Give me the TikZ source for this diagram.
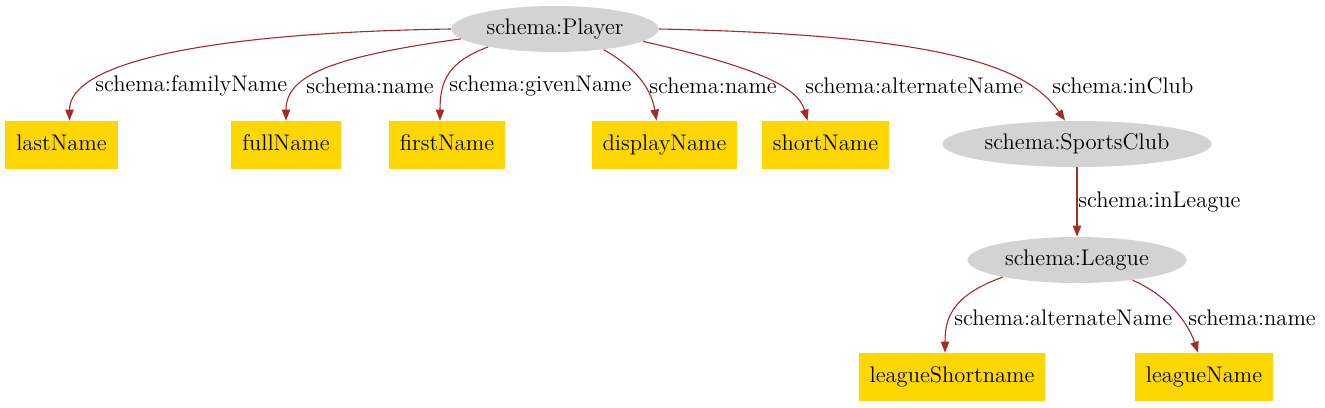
\documentclass[tikz,border=0pt]{standalone}
\usepackage{tikz}
\usetikzlibrary{shapes.geometric,arrows.meta}
\definecolor{edgebrown}{HTML}{A52A2A}
\definecolor{classgray}{HTML}{D3D3D3}
\definecolor{litgold}{HTML}{FFD700}
\tikzset{
  cls/.style={ellipse, fill=classgray, inner sep=0pt, minimum height=23pt, text height=1.7ex, text depth=.45ex},
  lit/.style={rectangle, fill=litgold, inner xsep=5.5pt, minimum height=24pt, text height=1.7ex, text depth=.45ex},
  prop/.style={anchor=west, inner sep=0pt},
  rel/.style={draw=edgebrown, line width=0.55pt, -{Triangle[length=5.5pt,width=4.2pt]}},
}

\begin{document}
\begin{tikzpicture}[x=0.5pt, y=-0.5pt, font=\fontsize{11.3pt}{13.5pt}\selectfont]
\useasboundingbox (0,0) rectangle (1325,407);
\node[cls, minimum width=103.5pt] (player) at (555,29) {schema:Player};
\node[lit] (lastName) at (61.5,145) {lastName};
\node[lit] (fullName) at (286,145) {fullName};
\node[lit] (firstName) at (447,145) {firstName};
\node[lit] (displayName) at (664.5,145) {displayName};
\node[lit] (shortName) at (825.5,145) {shortName};
\node[cls, minimum width=134.5pt] (club) at (1077,144) {schema:SportsClub};
\node[cls, minimum width=109.5pt] (league) at (1077,260) {schema:League};
\node[lit] (leagueShortname) at (952,377) {leagueShortname};
\node[lit] (leagueName) at (1204,377) {leagueName};

\draw[rel] (player.west) .. controls +(-260,4) and +(0,-55) .. ([xshift=4pt]lastName.north);
\draw[rel] (player.186) .. controls +(-130,18) and +(0,-45) .. (fullName.north);
\draw[rel] (player.195) .. controls +(-40,15) and +(0,-40) .. ([xshift=-3.5pt]firstName.north);
\draw[rel] (player.337) .. controls +(35,20) and +(-5,-30) .. ([xshift=-4pt]displayName.north);
\draw[rel] (player.352) .. controls +(110,25) and +(-10,-35) .. ([xshift=-9pt]shortName.north);
\draw[rel] (player.east) .. controls +(300,6) and +(-35,-50) .. ([xshift=-6pt]club.north);
\draw[rel] (club.south) -- (league.north);
\draw[rel] (league.193) .. controls +(-50,18) and +(0,-35) .. ([xshift=-3.5pt]leagueShortname.north);
\draw[rel] (league.340) .. controls +(35,15) and +(-10,-30) .. ([xshift=-3pt]leagueName.north);

\node[prop] (p1) at (95,86) {schema:familyName};
\node[prop] (p2) at (306,86) {schema:name};
\node[prop] (p3) at (449,86) {schema:givenName};
\node[prop] (p4) at (649,86) {schema:name};
\node[prop] (p5) at (805,86) {schema:alternateName};
\node[prop] (p6) at (1052,86) {schema:inClub};
\node[prop] (p7) at (1078,202) {schema:inLeague};
\node[prop] (p8) at (954,318) {schema:alternateName};
\node[prop] (p9) at (1188,318) {schema:name};
\end{tikzpicture}
\end{document}
